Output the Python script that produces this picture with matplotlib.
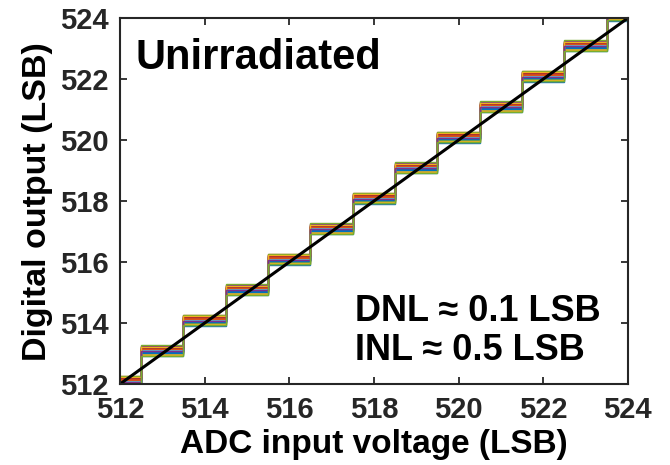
import numpy as np
import matplotlib.pyplot as plt

plt.rcParams['font.family'] = ['Liberation Sans', 'DejaVu Sans']
plt.rcParams['font.weight'] = 'bold'

# output codes and the input voltages where each code starts
codes = [512, 513, 514, 515, 516, 517, 518, 519, 520, 521, 522, 523, 524]
code_edges = [511.5, 512.5, 513.5, 514.5, 515.5, 516.5, 517.5, 518.5, 519.5,
              520.5, 521.5, 522.5, 523.5, 524.5]

trace_offsets = [-0.08, 0.26, 0.10, 0.02, 0.18, -0.04, 0.22, 0.06, 0.14, -0.06,
                 0.24, 0.00, 0.12, 0.20, 0.04, 0.16, -0.02, 0.08, 0.28, 0.11,
                 0.19, 0.03, 0.15, 0.23, 0.07, -0.07]

ideal_x = [512, 524]
ideal_y = [512, 524]

matlab_colors = ['#0072BD', '#D95319', '#EDB120', '#7E2F8E', '#77AC30',
                 '#4DBEEE', '#A2142F']

fig = plt.figure(figsize=(6.7, 4.65), dpi=100)
ax = fig.add_axes([0.179, 0.174, 0.758, 0.787])

for i, off in enumerate(trace_offsets):
    ax.stairs(np.array(codes) + off, code_edges, baseline=None,
              color=matlab_colors[i % len(matlab_colors)], linewidth=1.0)

ax.plot(ideal_x, ideal_y, color='black', linewidth=2.2)

ax.set_xlim(512, 524)
ax.set_ylim(512, 524)
ax.set_xticks(range(512, 525, 2))
ax.set_yticks(range(512, 525, 2))

ax.tick_params(direction='in', top=True, right=True, length=5, width=1.3,
               colors='#262626', labelsize=21)
ax.tick_params(axis='y', pad=8)
ax.tick_params(axis='x', pad=8.5)
for lab in ax.get_xticklabels() + ax.get_yticklabels():
    lab.set_fontweight('bold')
for sp in ax.spines.values():
    sp.set_linewidth(1.5)
    sp.set_color('#262626')

ax.set_xlabel('ADC input voltage (LSB)', fontsize=24, fontweight='bold',
              labelpad=4)
ax.set_ylabel('Digital output (LSB)', fontsize=24.5, fontweight='bold',
              labelpad=5)

ax.text(0.03, 0.945, 'Unirradiated', transform=ax.transAxes, fontsize=30,
        fontweight='bold', va='top', ha='left')
ax.text(0.463, 0.172, 'DNL ≈ 0.1 LSB', transform=ax.transAxes, fontsize=26,
        fontweight='bold', va='baseline', ha='left')
ax.text(0.463, 0.065, 'INL ≈ 0.5 LSB', transform=ax.transAxes, fontsize=26,
        fontweight='bold', va='baseline', ha='left')

fig.savefig('out.png', dpi=100)
